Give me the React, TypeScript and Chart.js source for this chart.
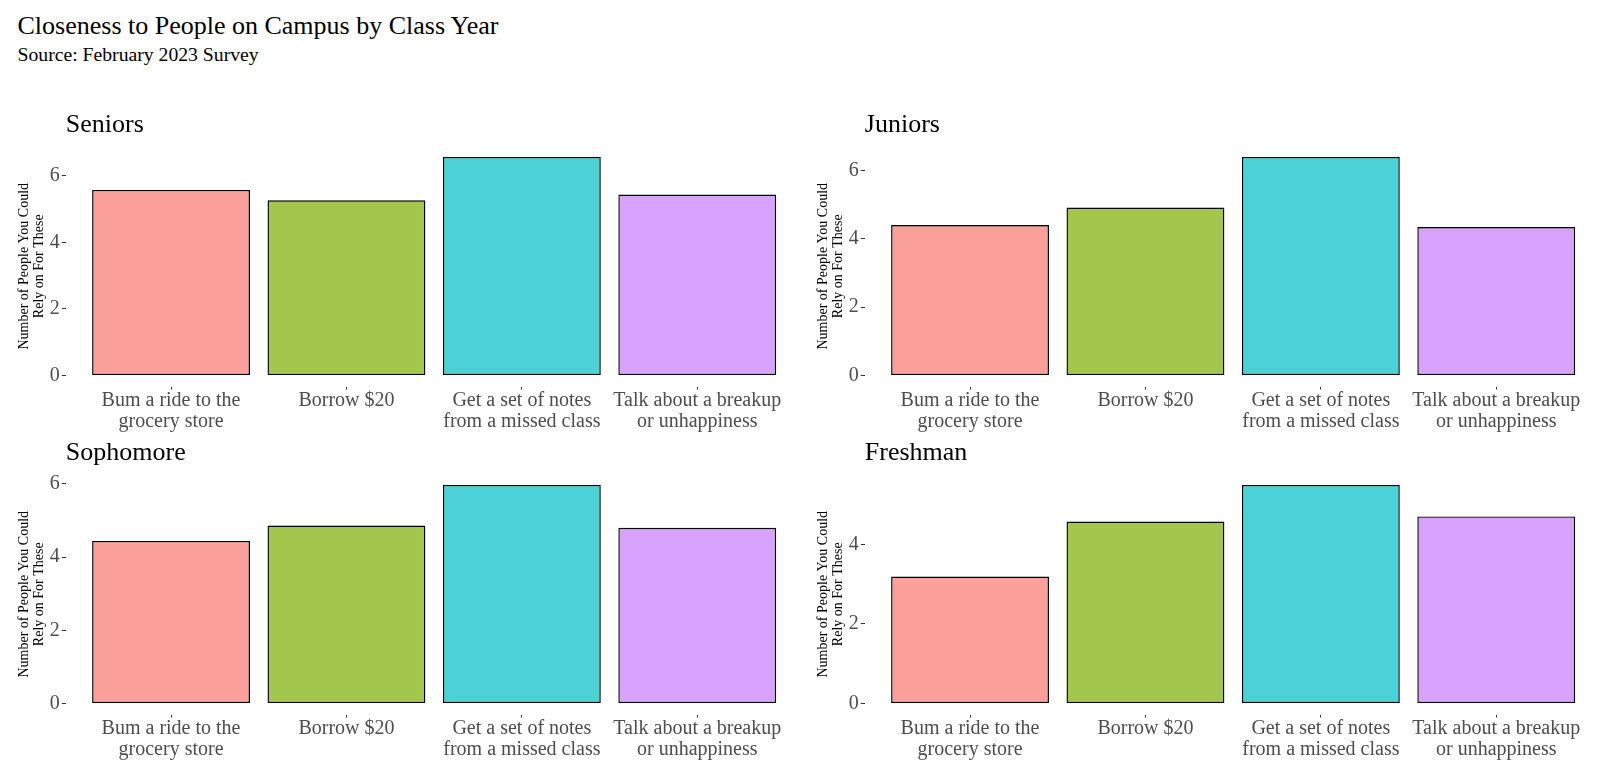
import React, { useEffect, useRef } from "react";
import { Chart, registerables } from "chart.js";

Chart.register(...registerables);

// ---- data ----
const categoryLabels: string[][] = [
  ["Bum a ride to the", "grocery store"],
  ["Borrow $20"],
  ["Get a set of notes", "from a missed class"],
  ["Talk about a breakup", "or unhappiness"],
];
const categoryPositions = [1, 2, 3, 4];
const panelTitles = ["Seniors", "Juniors", "Sophomore", "Freshman"];
const seniorsValues = [5.57, 5.26, 6.56, 5.43];
const juniorsValues = [4.4, 4.91, 6.39, 4.34];
const sophomoreValues = [4.44, 4.86, 5.97, 4.8];
const freshmanValues = [3.19, 4.57, 5.49, 4.7];
const yTickValues = [0, 2, 4, 6];
const barFillColors = [
  "rgba(248,118,109,0.7)",
  "rgba(124,174,0,0.7)",
  "rgba(0,191,196,0.7)",
  "rgba(199,124,255,0.7)",
];
const yAxisTitle = ["Number of People You Could", "Rely on For These"];
const mainTitle = "Closeness to People on Campus by Class Year";
const subTitle = "Source: February 2023 Survey";

const SERIF = "'Liberation Serif', 'DejaVu Serif', serif";
const CANVAS_W = 815;
const CANVAS_H = 345;

type PanelProps = { title: string; values: number[]; left: number; top: number };

function Panel({ title, values, left, top }: PanelProps) {
  const ref = useRef<HTMLCanvasElement>(null);
  useEffect(() => {
    if (!ref.current) return;
    const maxV = Math.max(...values);
    const chart = new Chart(ref.current, {
      type: "bar",
      data: {
        datasets: [
          {
            data: values.map((v, i) => ({ x: categoryPositions[i], y: v })),
            backgroundColor: barFillColors,
            borderColor: "#000000",
            borderWidth: 1.4,
            borderSkipped: false,
            barPercentage: 0.9,
            categoryPercentage: 1,
          } as any,
        ],
      },
      options: {
        responsive: false,
        animation: false,
        layout: { padding: { left: 0, right: 12.5, top: 0, bottom: 0 } },
        plugins: {
          legend: { display: false },
          tooltip: { enabled: false },
          title: {
            display: true,
            text: title,
            align: "start",
            fullSize: false,
            color: "#000000",
            font: { family: SERIF, size: 26, weight: "normal", lineHeight: 1.2 },
            padding: { top: 19.7, bottom: 5.1 },
          },
        },
        scales: {
          x: {
            type: "linear",
            min: 0.4,
            max: 4.6,
            offset: false,
            afterBuildTicks: (s: any) => {
              s.ticks = categoryPositions.map((v) => ({ value: v }));
            },
            afterFit: (s: any) => {
              s.height = 48.5;
            },
            ticks: {
              autoSkip: false,
              maxRotation: 0,
              minRotation: 0,
              padding: 0,
              color: "#4D4D4D",
              font: { family: SERIF, size: 20, lineHeight: 1.08 },
              callback: (v: any) => {
                const i = categoryPositions.indexOf(Number(v));
                return i >= 0 ? categoryLabels[i] : "";
              },
            },
            grid: {
              display: true,
              offset: false,
              drawOnChartArea: false,
              drawTicks: true,
              tickLength: 3,
              color: "#333333",
              lineWidth: 1,
            },
            border: { display: false },
          },
          y: {
            type: "linear",
            min: -0.05 * maxV,
            max: 1.05 * maxV,
            afterBuildTicks: (s: any) => {
              s.ticks = yTickValues.filter((v) => v <= s.max).map((v) => ({ value: v }));
            },
            afterFit: (s: any) => {
              s.width = 65.8;
            },
            ticks: {
              padding: 2,
              color: "#4D4D4D",
              font: { family: SERIF, size: 20 },
              callback: (v: any) => String(v),
            },
            grid: {
              display: true,
              drawOnChartArea: false,
              drawTicks: true,
              tickLength: 4,
              color: "#333333",
              lineWidth: 1,
            },
            border: { display: false },
            title: {
              display: true,
              text: yAxisTitle,
              color: "#000000",
              font: { family: SERIF, size: 14, lineHeight: 1.1 },
              padding: { top: 16.5, bottom: 0 },
            },
          },
        },
      } as any,
    });
    return () => chart.destroy();
  }, [title, values]);
  return (
    <canvas
      ref={ref}
      width={CANVAS_W}
      height={CANVAS_H}
      style={{ position: "absolute", left, top, width: CANVAS_W, height: CANVAS_H }}
    />
  );
}

export default function App() {
  const panels = [
    { title: panelTitles[0], values: seniorsValues, left: 0, top: 90 },
    { title: panelTitles[1], values: juniorsValues, left: 799, top: 90 },
    { title: panelTitles[2], values: sophomoreValues, left: 0, top: 418.3 },
    { title: panelTitles[3], values: freshmanValues, left: 799, top: 418.3 },
  ];
  return (
    <div
      style={{
        position: "absolute",
        left: 0,
        top: 0,
        width: 1617,
        height: 781,
        background: "#ffffff",
        overflow: "hidden",
        fontFamily: SERIF,
      }}
    >
      <div
        style={{
          position: "absolute",
          left: 17.5,
          top: 10.8,
          fontSize: 26,
          lineHeight: "30px",
          color: "#000",
          whiteSpace: "nowrap",
        }}
      >
        {mainTitle}
      </div>
      <div
        style={{
          position: "absolute",
          left: 17.5,
          top: 41.6,
          fontSize: 19.7,
          lineHeight: "24px",
          color: "#000",
          whiteSpace: "nowrap",
        }}
      >
        {subTitle}
      </div>
      {panels.map((p) => (
        <Panel key={p.title} title={p.title} values={p.values} left={p.left} top={p.top} />
      ))}
    </div>
  );
}
